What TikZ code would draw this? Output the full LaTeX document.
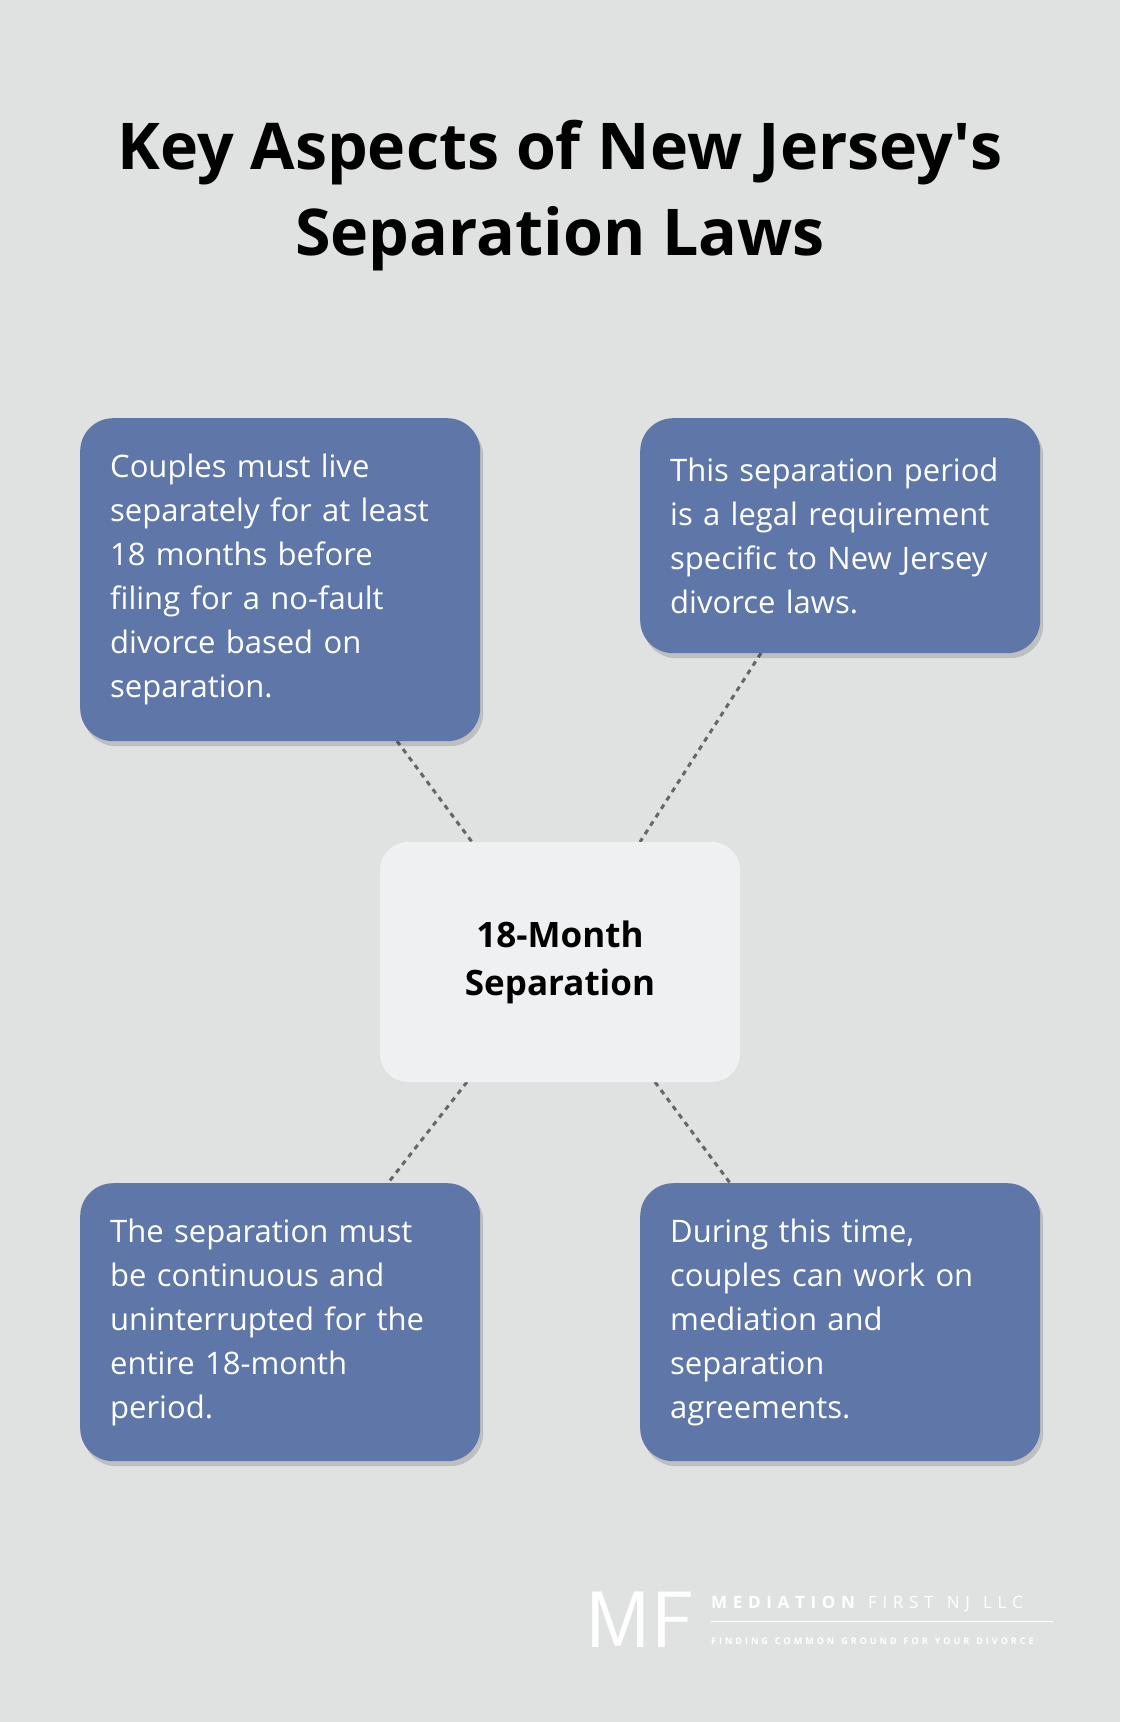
\documentclass[tikz,border=0pt]{standalone}
\usepackage{fontspec}
\setmainfont{Open Sans}
\usetikzlibrary{positioning,shadows}
\definecolor{bgc}{HTML}{E0E2E1}
\definecolor{boxc}{HTML}{5E77A8}
\definecolor{midc}{HTML}{EFF0F2}
\tikzset{
    > = latex,
    fact/.style={fill=boxc, rounded corners=33pt, text=white, align=left,
        font=\fontsize{31}{44}\selectfont, inner xsep=30pt, anchor=north west,
        minimum width=400pt, text width=340pt, inner ysep=20pt,
        drop shadow={shadow xshift=3pt, shadow yshift=-5pt, opacity=.15, fill=black}},
    link/.style={draw=black!60, line width=3pt, dash pattern=on 5pt off 5pt}
}
\begin{document}
\begin{tikzpicture}[x=1pt,y=-1pt]
    \fill[bgc] (0,0) rectangle (1120,1722);
    \useasboundingbox (0,0) rectangle (1120,1722);
    \node (title) at (560,196) [align=center, font=\fontsize{64.5}{86}\selectfont\bfseries]
        {Key Aspects of New Jersey\textquotesingle s\\Separation Laws};
    % connectors
    \coordinate (a1) at (397,741); \coordinate (a2) at (472,842);
    \coordinate (b1) at (761,653); \coordinate (b2) at (640,842);
    \coordinate (c1) at (467,1082); \coordinate (c2) at (388,1183);
    \coordinate (d1) at (655,1082); \coordinate (d2) at (730,1183);
    \draw[link] (a1) -- (a2);
    \draw[link] (b1) -- (b2);
    \draw[link] (c1) -- (c2);
    \draw[link] (d1) -- (d2);
    % boxes
    \node[fact, minimum height=323pt] (tl) at (80,418)
        {Couples must live\\separately for at least\\18 months before\\filing for a no-fault\\divorce based on\\separation.};
    \node[fact, minimum height=235pt] (tr) at (640,418)
        {This separation period\\is a legal requirement\\specific to New Jersey\\divorce laws.};
    \node[fact, minimum height=278pt] (bl) at (80,1183)
        {The separation must\\be continuous and\\uninterrupted for the\\entire 18-month\\period.};
    \node[fact, minimum height=278pt] (br) at (640,1183)
        {During this time,\\couples can work on\\mediation and\\separation\\agreements.};
    \node[fill=midc, rounded corners=28pt, minimum width=360pt, minimum height=240pt,
        align=center, font=\fontsize{35}{48}\selectfont\bfseries] (mid) at (560,962)
        {18-Month\\Separation};
    % logo
    \node[text=white, font=\fontsize{80}{80}\selectfont\sffamily, inner sep=0] (mf) at (640,1620) {MF};
    \node[text=white, font=\fontsize{17}{17}\selectfont\bfseries, anchor=west, inner sep=0] (nm) at (711,1604)
        {M\,\,E\,\,D\,\,I\,\,A\,\,T\,\,I\,\,O\,\,N\ \ \ \mdseries F\,\,I\,\,R\,\,S\,\,T\ \ \ N\,\,J\ \ \ L\,\,L\,\,C};
    \draw[white, line width=1pt] (711,1621) -- (1053,1621);
    \node[text=white, font=\fontsize{9}{9}\selectfont\bfseries, anchor=west, inner sep=0] (tag) at (711,1641)
        {F\,\,I\,\,N\,\,D\,\,I\,\,N\,\,G\ \ \ C\,\,O\,\,M\,\,M\,\,O\,\,N\ \ \ G\,\,R\,\,O\,\,U\,\,N\,\,D\ \ \ F\,\,O\,\,R\ \ \ Y\,\,O\,\,U\,\,R\ \ \ D\,\,I\,\,V\,\,O\,\,R\,\,C\,\,E};
\end{tikzpicture}
\end{document}
